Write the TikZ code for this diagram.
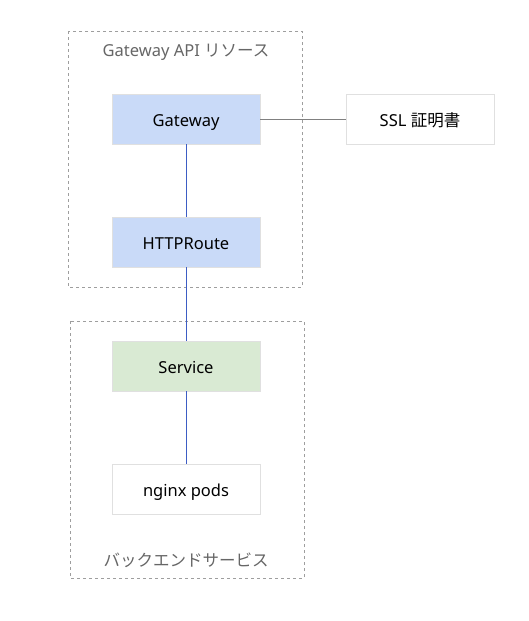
\documentclass[tikz,border=0pt]{standalone}
\usepackage{fontspec}
\setmainfont{Noto Sans}
\newfontfamily\cjk{Noto Sans CJK JP}
\definecolor{apiblue}{HTML}{C9DAF8}
\definecolor{svcgreen}{HTML}{D9EAD3}
\definecolor{linkblue}{HTML}{3D5DC4}
\definecolor{edgegray}{HTML}{E0E0E0}
\definecolor{dashgray}{HTML}{9E9E9E}
\definecolor{labelgray}{HTML}{666666}
\begin{document}
\begin{tikzpicture}[x=1pt, y=-1pt,
  res/.style={draw=edgegray, rectangle, minimum width=148pt, minimum height=50pt,
    text height=15pt, text depth=1pt, font=\fontsize{16.5}{19}\selectfont},
  group/.style={draw=dashgray, dashed, line width=0.8pt},
  grouplabel/.style={text=labelgray, font=\fontsize{16.5}{19}\selectfont},
  link/.style={linkblue, line width=0.8pt}]
\useasboundingbox (0,0) rectangle (528,621);
% groups
\draw[group] (68,31) rectangle (302,287);
\draw[group] (70,321) rectangle (304,578);
\node[grouplabel] (apilabel) at (186,52) {Gateway API {\cjk リソース}};
\node[grouplabel] (backlabel) at (186,560) {\cjk バックエンドサービス};
% resources
\node[res, fill=apiblue] (gw) at (186,119) {Gateway};
\node[res, fill=apiblue] (route) at (186,242) {HTTPRoute};
\node[res, fill=svcgreen] (svc) at (186,366) {Service};
\node[res, fill=white] (pods) at (186,489) {nginx pods};
\node[res, fill=white] (cert) at (420,119) {SSL {\cjk 証明書}};
% links
\draw[gray, line width=0.8pt] (gw) -- (cert);
\draw[link] (gw) -- (route);
\draw[link] (route) -- (svc);
\draw[link] (svc) -- (pods);
\end{tikzpicture}
\end{document}
